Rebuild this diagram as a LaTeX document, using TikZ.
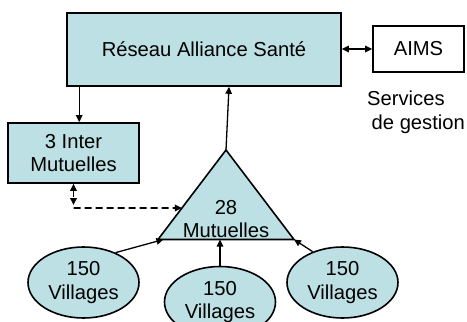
\documentclass[tikz,border=0pt]{standalone}
\usepackage{fontspec}
\setmainfont{Liberation Sans}
\usetikzlibrary{arrows.meta,shapes.geometric,calc}
\definecolor{boxfill}{RGB}{188,224,227}
\begin{document}
\begin{tikzpicture}[x=1pt,y=-1pt,
  txt/.style={font=\fontsize{20.2}{23.5}\selectfont, align=center},
  bluebox/.style={draw, line width=1.6pt, fill=boxfill, inner sep=0pt, txt},
  whitebox/.style={draw, line width=1.6pt, fill=white, inner sep=0pt, txt},
  village/.style={ellipse, draw, line width=1.6pt, fill=boxfill, inner sep=0pt,
    minimum width=111pt, minimum height=71pt, txt},
  arr/.style={line width=1.3pt, -{Triangle[length=7pt,width=6.5pt]}},
  darr/.style={line width=1.6pt, {Triangle[length=7pt,width=6.5pt]}-{Triangle[length=7pt,width=6.5pt]}},
  dsh/.style={line width=1.8pt, dash pattern=on 7pt off 4pt},
]
\clip (0,0) rectangle (467,322);
\node[bluebox, minimum width=274pt, minimum height=73pt] (ras) at (204,49.5) {Réseau Alliance Santé};
\node[whitebox, minimum width=91pt, minimum height=46pt] (aims) at (418.5,49) {AIMS};
\node[txt, align=left, anchor=north west, inner sep=0pt] (svc) at (367,91) {Services\\\hspace*{4.5pt}de gestion};
\node[bluebox, minimum width=131pt, minimum height=60pt] (inter) at (73.5,153) {3 Inter\\Mutuelles};
\coordinate (apex) at (226,150);
\coordinate (bl) at (158,239.5);
\coordinate (br) at (294,239.5);
\draw[line width=1.6pt, fill=boxfill, line join=miter] (apex) -- (bl) -- (br) -- cycle;
\node[txt, inner sep=0pt] (mut) at (226,219) {28\\Mutuelles};
\node[village] (v1) at (83.5,282.5) {150\\Villages};
\node[village] (v2) at (220,302) {150\\Villages};
\node[village] (v3) at (342.5,282.5) {150\\Villages};
\coordinate (tl) at ($(apex)!0.648!(bl)$);
\coordinate (dv) at (73.5,205);
\coordinate (dc) at (73.5,208);
% connectors
\draw[arr] ([xshift=13pt]ras.south west) -- ([xshift=13pt]ras.south west |- inter.north);
\draw[arr] (apex) -- ([xshift=25pt]ras.south);
\draw[darr] (ras.east |- aims.west) -- (aims.west);
\draw[dsh, {Triangle[length=7pt,width=6.5pt]}-{Triangle[length=7pt,width=6.5pt]}] (inter.south) -- (dv);
\draw[dsh, -{Triangle[length=7pt,width=6.5pt]}] (dc) -- (tl);
\draw[arr] (v1.43) -- ($(bl)!0.04!(br)$);
\draw[arr] (v2.north) -- (v2.north |- bl);
\draw[arr] (v3.134) -- (br);
\end{tikzpicture}
\end{document}
